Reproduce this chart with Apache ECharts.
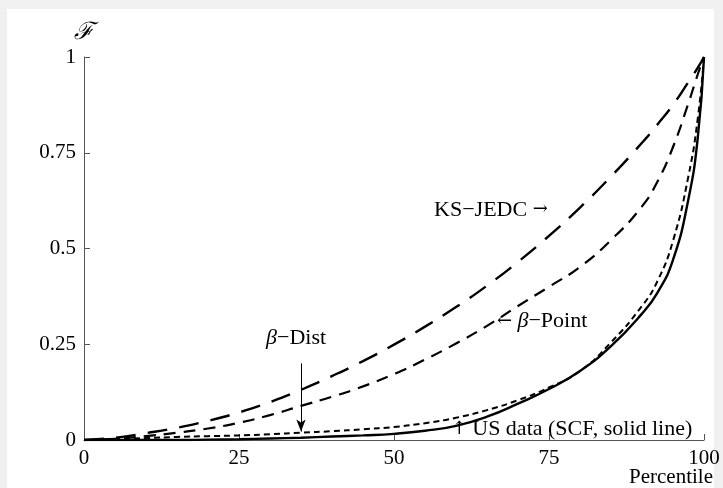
<!DOCTYPE html>
<html>
<head>
<meta charset="utf-8">
<script src="https://cdn.jsdelivr.net/npm/echarts@6/dist/echarts.min.js"></script>
<style>
  html, body { margin: 0; padding: 0; background: #f0f0f0; }
  #chart { width: 723px; height: 488px; }
</style>
</head>
<body>
<div id="chart"></div>
<script>
// percentiles shared by all curves
const percentiles = [0, 5, 10, 15, 20, 25, 30, 35, 40, 45, 50, 55, 60, 65, 70, 75, 80, 85, 90, 92.5, 95, 97.5, 99, 100];

const ksJedc    = [0, 0.006, 0.018, 0.032, 0.05, 0.072, 0.099, 0.131, 0.167, 0.206, 0.249, 0.296, 0.347, 0.403, 0.465, 0.533, 0.607, 0.688, 0.776, 0.824, 0.875, 0.935, 0.972, 1];
const betaPoint = [0, 0.003, 0.01, 0.019, 0.03, 0.045, 0.065, 0.089, 0.113, 0.14, 0.172, 0.21, 0.252, 0.298, 0.35, 0.4, 0.452, 0.522, 0.61, 0.675, 0.765, 0.88, 0.955, 1];
const betaDist  = [0, 0.002, 0.005, 0.008, 0.01, 0.012, 0.015, 0.019, 0.023, 0.028, 0.034, 0.044, 0.058, 0.078, 0.104, 0.137, 0.18, 0.255, 0.35, 0.415, 0.52, 0.69, 0.84, 1];
const usData    = [0, 0, 0, 0, 0.001, 0.002, 0.004, 0.006, 0.009, 0.012, 0.016, 0.024, 0.037, 0.061, 0.095, 0.133, 0.18, 0.245, 0.33, 0.385, 0.47, 0.63, 0.79, 1];

const xTicks = [0, 25, 50, 75, 100];
const yTicks = [0, 0.25, 0.5, 0.75, 1];

const serif = '"Liberation Serif", "DejaVu Serif", serif';
const pairs = (ys) => percentiles.map((x, i) => [x, ys[i]]);

const chart = echarts.init(document.getElementById('chart'));

const lineSeries = (name, ys, dash, width) => ({
  name: name,
  type: 'line',
  data: pairs(ys),
  showSymbol: false,
  smooth: 0.5,
  lineStyle: { color: '#000', width: width, type: dash, cap: 'butt' },
  z: 3,
});

chart.setOption({
  animation: false,
  backgroundColor: '#f0f0f0',
  grid: { left: 84, right: 19, top: 57, bottom: 48 },
  xAxis: {
    type: 'value',
    min: 0, max: 100, interval: 25,
    axisLine: { lineStyle: { color: '#555', width: 1 } },
    axisTick: { inside: true, length: 6, lineStyle: { color: '#555' } },
    splitLine: { show: false },
    axisLabel: {
      color: '#000', fontFamily: serif, fontSize: 21, margin: 8,
      formatter: (v) => xTicks.includes(v) ? String(v) : ''
    },
  },
  yAxis: {
    type: 'value',
    min: 0, max: 1, interval: 0.25,
    name: 'ℱ',
    nameLocation: 'end',
    nameGap: 12,
    nameTextStyle: { color: '#000', fontFamily: serif, fontStyle: 'italic', fontSize: 24, align: 'center' },
    axisLine: { lineStyle: { color: '#555', width: 1 } },
    axisTick: { inside: true, length: 6, lineStyle: { color: '#555' } },
    splitLine: { show: false },
    axisLabel: {
      color: '#000', fontFamily: serif, fontSize: 21, margin: 8,
      formatter: (v) => yTicks.includes(v) ? String(v) : ''
    },
  },
  series: [
    lineSeries('KS-JEDC', ksJedc, [20, 12], 2.4),
    lineSeries('β-Point', betaPoint, [12, 8], 2.2),
    Object.assign(lineSeries('β-Dist', betaDist, [6, 4], 2), {
      markLine: {
        silent: true,
        symbol: ['none', 'arrow'],
        symbolSize: [7, 12],
        label: { show: false },
        lineStyle: { color: '#000', width: 1, type: 'solid' },
        data: [[{ coord: [35, 0.2] }, { coord: [35, 0.022] }]]
      }
    }),
    lineSeries('US data', usData, 'solid', 2.4),
  ],
});

// annotations anchored to data coordinates
const at = (x, y) => chart.convertToPixel({ gridIndex: 0 }, [x, y]);
const note = (x, y, text, align) => {
  const p = at(x, y);
  return {
    type: 'text', x: p[0], y: p[1], z: 10,
    style: {
      text: text, fill: '#000', font: '22px ' + serif, align: align, verticalAlign: 'middle',
      rich: {
        i: { fontStyle: 'italic', fontSize: 22, fontFamily: serif },
        a: { fontSize: 18, fontFamily: '"DejaVu Serif", serif', fontWeight: 'lighter' }
      }
    }
  };
};

chart.setOption({
  graphic: [
    { type: 'rect', z: -10, silent: true,
      shape: { x: 7, y: 9, width: 707, height: 479 }, style: { fill: '#fff' } },
    note(74.8, 0.601, 'KS−JEDC {a|→}', 'right'),
    note(66.6, 0.311, '{a|←} {i|β}−Point', 'left'),
    note(34.2, 0.267, '{i|β}−Dist', 'center'),
    note(59.3, 0.027, '{a|↑} US data (SCF, solid line)', 'left'),
    { type: 'text', right: 10, top: 467, z: 10,
      style: { text: 'Percentile', fill: '#000', font: '21px ' + serif } },
  ]
});
</script>
</body>
</html>
